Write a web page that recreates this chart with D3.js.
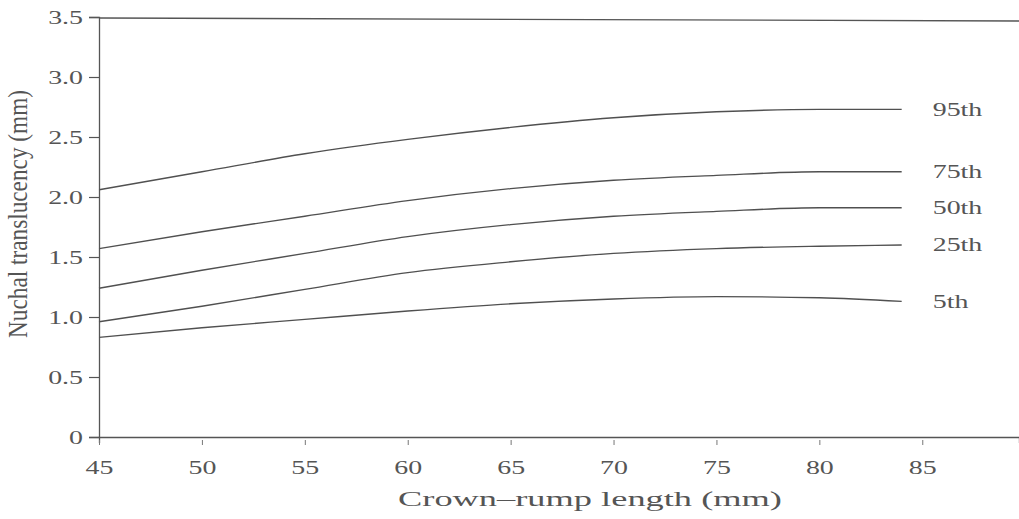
<!DOCTYPE html>
<html>
<head>
<meta charset="utf-8">
<script src="https://cdn.jsdelivr.net/npm/d3@7"></script>
<style>
  html, body { margin: 0; padding: 0; background: #fff; }
  svg { display: block; }
  text { font-family: "Liberation Serif", "DejaVu Serif", serif; fill: #555; }
</style>
</head>
<body>
<svg id="chart" width="1019" height="519"></svg>
<script>
// Crown-rump length (mm) at which the curves are read
const crl = [45, 50, 55, 60, 65, 70, 75, 80, 84];
// Nuchal translucency percentiles (mm)
const p95 = [2.06, 2.21, 2.36, 2.48, 2.58, 2.66, 2.71, 2.73, 2.73];
const p75 = [1.57, 1.71, 1.84, 1.97, 2.07, 2.14, 2.18, 2.21, 2.21];
const p50 = [1.24, 1.39, 1.53, 1.67, 1.77, 1.84, 1.88, 1.91, 1.91];
const p25 = [0.96, 1.09, 1.23, 1.37, 1.46, 1.53, 1.57, 1.59, 1.60];
const p5  = [0.83, 0.91, 0.98, 1.05, 1.11, 1.15, 1.17, 1.16, 1.13];
const seriesNames = ["95th", "75th", "50th", "25th", "5th"];
const seriesValues = [p95, p75, p50, p25, p5];
const xTicks = [45, 50, 55, 60, 65, 70, 75, 80, 85];
const yTicks = [0, 0.5, 1.0, 1.5, 2.0, 2.5, 3.0, 3.5];
const yTickLabels = ["0", "0.5", "1.0", "1.5", "2.0", "2.5", "3.0", "3.5"];
const xTitle = "Crown\u2013rump length (mm)";
const yTitle = "Nuchal translucency (mm)";

const svg = d3.select("#chart");
const x = d3.scaleLinear().domain([45, 89.7]).range([99, 1019]);
const y = d3.scaleLinear().domain([0, 3.5]).range([437, 17]);
const stretch = 1.55;
const ink = "#555";

// Y axis
const gy = svg.append("g").attr("transform", `translate(${x(45)},0)`)
  .call(d3.axisLeft(y).tickValues(yTicks).tickSize(10).tickPadding(0)
    .tickFormat((d, i) => yTickLabels[i]));
gy.select(".domain").attr("stroke", ink).attr("stroke-width", 1.3);
gy.selectAll(".tick line").attr("stroke", ink).attr("stroke-width", 1.2);
gy.selectAll(".tick text")
  .attr("x", 0).attr("dy", "0.34em")
  .attr("transform", `translate(-16,0) scale(${stretch},1)`)
  .style("font-size", "18px").style("font-family", "Liberation Serif").attr("fill", "#6e6e6e");

// X axis
const gx = svg.append("g").attr("transform", `translate(0,${y(0)})`)
  .call(d3.axisBottom(x).tickValues(xTicks).tickSize(6).tickPadding(0).tickFormat(d3.format("d")));
gx.select(".domain").attr("stroke", ink).attr("stroke-width", 1.3);
gx.selectAll(".tick line").attr("stroke", "#777").attr("stroke-width", 1).attr("y1", 3).attr("y2", 8);
gx.selectAll(".tick text")
  .attr("y", 0).attr("dy", 0)
  .attr("transform", `translate(0,37) scale(${stretch},1)`)
  .style("font-size", "18px").style("font-family", "Liberation Serif").attr("fill", "#6e6e6e");

// Top frame line
svg.append("line")
  .attr("x1", x(45)).attr("x2", x(89.7))
  .attr("y1", y(3.5) + 1).attr("y2", y(3.5) + 4)
  .attr("stroke", ink).attr("stroke-width", 1.3);

// Curves
const line = d3.line().x((d, i) => x(crl[i])).y(d => y(d)).curve(d3.curveMonotoneX);
svg.append("g").selectAll("path").data(seriesValues).join("path")
  .attr("d", d => line(d))
  .attr("fill", "none").attr("stroke", "#505050").attr("stroke-width", 1.4);

// Series labels
svg.append("g").selectAll("text").data(seriesValues).join("text")
  .attr("transform", d => `translate(${x(84) + 31},${y(d[d.length - 1])}) scale(${stretch},1)`)
  .attr("dy", "0.35em")
  .style("font-size", "18px").attr("fill", "#5e5e5e")
  .text((d, i) => seriesNames[i]);

// Axis titles
svg.append("text")
  .attr("x", 590).attr("y", 506)
  .attr("text-anchor", "middle")
  .attr("textLength", 384).attr("lengthAdjust", "spacingAndGlyphs")
  .style("font-size", "22px").attr("fill", "#5e5e5e")
  .text(xTitle);

svg.append("text")
  .attr("transform", "translate(27,214) scale(1.3,1) rotate(-90)")
  .attr("text-anchor", "middle")
  .attr("textLength", 248).attr("lengthAdjust", "spacingAndGlyphs")
  .style("font-size", "21px").attr("fill", "#5e5e5e")
  .text(yTitle);
</script>
</body>
</html>
